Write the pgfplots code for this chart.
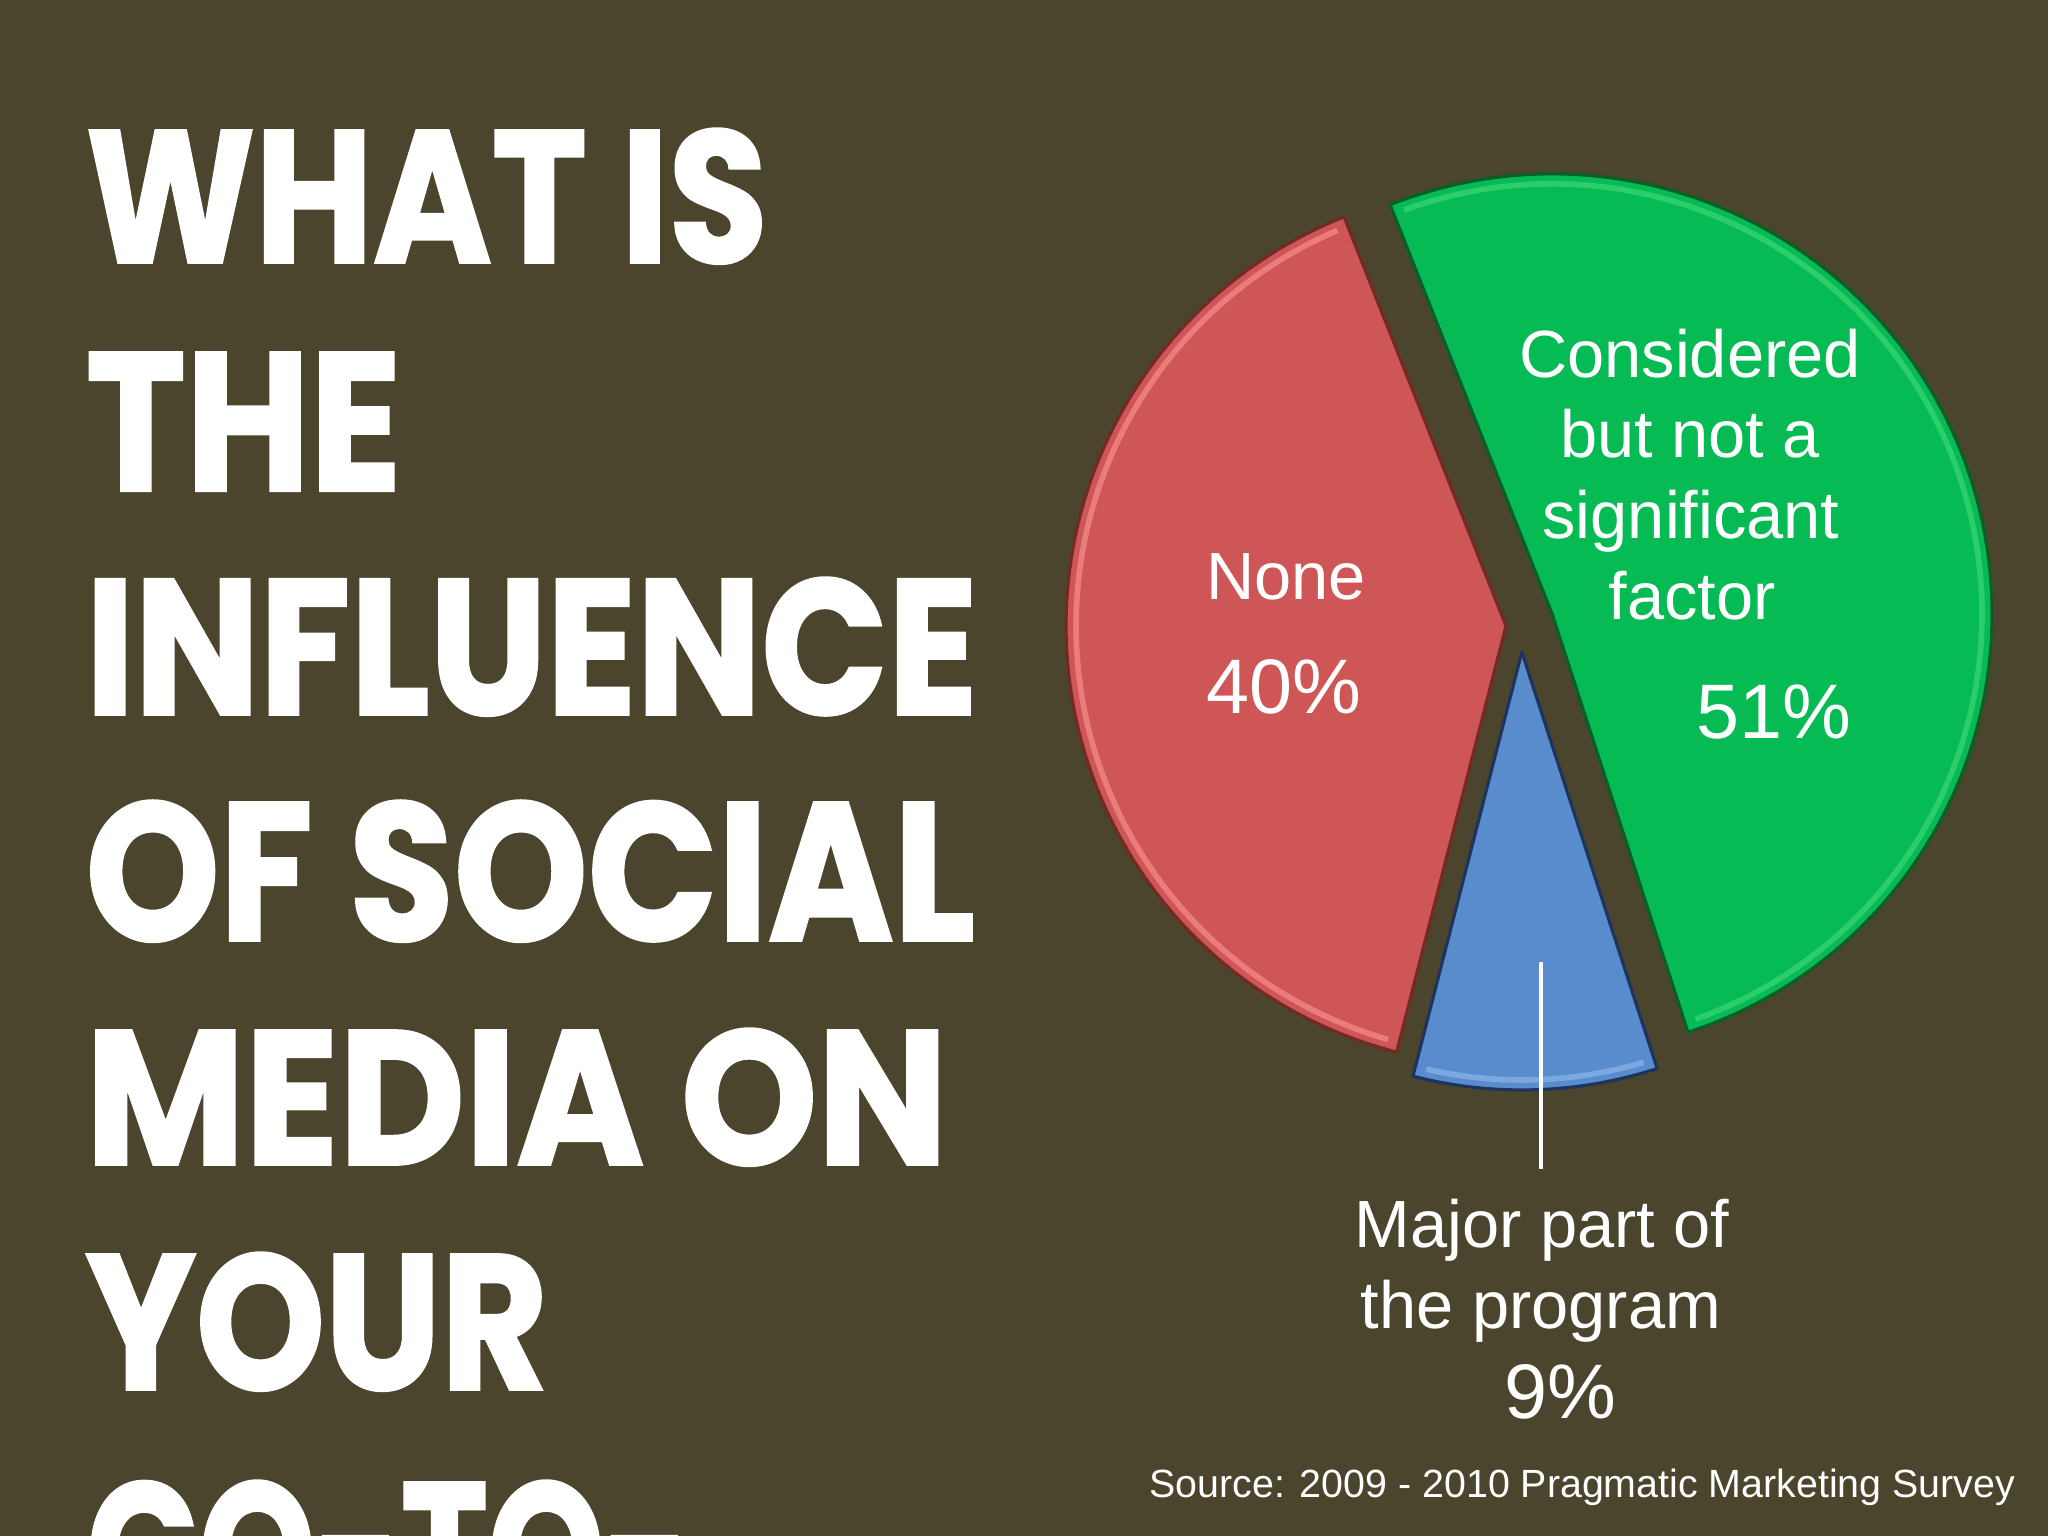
\documentclass[border=0pt]{standalone}
\usepackage{pgfplots}
\usepackage{pgfplotstable}
\pgfplotsset{compat=1.18}
\usepackage{graphicx}
\usepackage{fontspec}
\setmainfont{Liberation Sans}
\newfontfamily\titlefont[BoldFeatures={FakeBold=1.5}]{Poppins}

\definecolor{bg}{RGB}{74,69,44}
\definecolor{pieRed}{RGB}{206,86,86}
\definecolor{pieRedDark}{RGB}{115,42,36}
\definecolor{pieRedLight}{RGB}{244,138,138}
\definecolor{pieGreen}{RGB}{6,186,84}
\definecolor{pieGreenDark}{RGB}{10,95,40}
\definecolor{pieGreenLight}{RGB}{70,220,125}
\definecolor{pieBlue}{RGB}{88,140,205}
\definecolor{pieBlueDark}{RGB}{30,52,92}
\definecolor{pieBlueLight}{RGB}{135,178,232}

% share in percent, explode distance in px
\pgfplotstableread{
slice share shift
None 40 15
Major 9 27
Considered 51 33
}\piedata

\newcommand\labelsize{\fontsize{19}{23}\selectfont}
\newcommand\pctsize{\fontsize{22}{26}\selectfont}

\begin{document}
\begin{tikzpicture}
\pgfplotstablegetelem{0}{share}\of\piedata\edef\sNone{\pgfplotsretval}
\pgfplotstablegetelem{1}{share}\of\piedata\edef\sMajor{\pgfplotsretval}
\pgfplotstablegetelem{2}{share}\of\piedata\edef\sCons{\pgfplotsretval}
\pgfplotstablegetelem{0}{shift}\of\piedata\edef\dNone{\pgfplotsretval}
\pgfplotstablegetelem{1}{shift}\of\piedata\edef\dMajor{\pgfplotsretval}
\pgfplotstablegetelem{2}{shift}\of\piedata\edef\dCons{\pgfplotsretval}
\pgfmathsetmacro\aStart{111.6}
\pgfmathsetmacro\aRB{\aStart+3.6*\sNone}
\pgfmathsetmacro\aBG{\aRB+3.6*\sMajor}
\pgfmathsetmacro\aEnd{\aBG+3.6*\sCons}
\pgfmathsetmacro\xR{1521+\dNone*cos((\aStart+\aRB)/2)}
\pgfmathsetmacro\yR{625-\dNone*sin((\aStart+\aRB)/2)}
\pgfmathsetmacro\xB{1521+\dMajor*cos((\aRB+\aBG)/2)}
\pgfmathsetmacro\yB{625-\dMajor*sin((\aRB+\aBG)/2)}
\pgfmathsetmacro\xG{1521+\dCons*cos((\aBG+\aEnd)/2)}
\pgfmathsetmacro\yG{625-\dCons*sin((\aBG+\aEnd)/2)}

\useasboundingbox (0,0) rectangle (20.48,15.36);
\clip (0,0) rectangle (20.48,15.36);
\fill[bg] (0,0) rectangle (20.48,15.36);

\begin{axis}[
    at={(0,0)}, anchor=south west,
    width=20.48cm, height=15.36cm, scale only axis,
    xmin=0, xmax=2048, ymin=0, ymax=1536,
    y dir=reverse,
    hide axis, clip=false,
]
% slices
\addplot[fill=pieRed, draw=pieRedDark, line width=0.9pt, line join=round,
    domain=\aStart:\aRB, samples=120]
    ({\xR+440*cos(x)}, {\yR-440*sin(x)}) -- (axis cs:\xR,\yR) -- cycle;
\addplot[fill=pieBlue, draw=pieBlueDark, line width=0.9pt, line join=round,
    domain=\aRB:\aBG, samples=40]
    ({\xB+438*cos(x)}, {\yB-438*sin(x)}) -- (axis cs:\xB,\yB) -- cycle;
\addplot[fill=pieGreen, draw=pieGreenDark, line width=0.9pt, line join=round,
    domain=\aBG:\aEnd, samples=150]
    ({\xG+440*cos(x)}, {\yG-440*sin(x)}) -- (axis cs:\xG,\yG) -- cycle;
% rim highlights
\addplot[draw=pieRedLight, line width=1.6pt, opacity=0.75, domain=\aStart+1.5:\aRB-1.5, samples=100]
    ({\xR+430*cos(x)}, {\yR-430*sin(x)});
\addplot[draw=pieBlueLight, line width=1.6pt, opacity=0.75, domain=\aRB+1.5:\aBG-1.5, samples=30]
    ({\xB+428*cos(x)}, {\yB-428*sin(x)});
\addplot[draw=pieGreenLight, line width=1.6pt, opacity=0.6, domain=\aBG+1.5:\aEnd-1.5, samples=120]
    ({\xG+430*cos(x)}, {\yG-430*sin(x)});
% leader line
\addplot[white, line width=1pt] coordinates {(1541,962) (1541,1169)};

% slice labels
\node[text=white, anchor=base, inner sep=0pt, font=\labelsize] at (axis cs:1286,600) {None};
\node[text=white, anchor=base, inner sep=0pt, font=\pctsize] at (axis cs:1284,714) {40\%};
\node[text=white, anchor=base, inner sep=0pt, font=\labelsize] at (axis cs:1690,377) {Considered};
\node[text=white, anchor=base, inner sep=0pt, font=\labelsize] at (axis cs:1690,458) {but not a};
\node[text=white, anchor=base, inner sep=0pt, font=\labelsize] at (axis cs:1691,539) {significant};
\node[text=white, anchor=base, inner sep=0pt, font=\labelsize] at (axis cs:1692,620) {factor};
\node[text=white, anchor=base, inner sep=0pt, font=\pctsize] at (axis cs:1774,738) {51\%};
\node[text=white, anchor=base, inner sep=0pt, font=\labelsize] at (axis cs:1542,1247) {Major part of};
\node[text=white, anchor=base, inner sep=0pt, font=\labelsize] at (axis cs:1541,1328) {the program};
\node[text=white, anchor=base, inner sep=0pt, font=\pctsize] at (axis cs:1560,1418) {9\%};
\node[text=white, anchor=base east, inner sep=0pt, font=\fontsize{11.2}{13}\selectfont] at (axis cs:2016,1497)
    {Source: 2009 - 2010 Pragmatic Marketing Survey};

% title
\node[text=white, anchor=north west, inner sep=0pt] at (axis cs:85,128)
    {\resizebox*{6.82cm}{1.35cm}{\titlefont\bfseries WHAT IS}};
\node[text=white, anchor=north west, inner sep=0pt] at (axis cs:85,352)
    {\resizebox*{3.16cm}{1.38cm}{\titlefont\bfseries THE}};
\node[text=white, anchor=north west, inner sep=0pt] at (axis cs:85,577)
    {\resizebox*{8.92cm}{1.38cm}{\titlefont\bfseries INFLUENCE}};
\node[text=white, anchor=north west, inner sep=0pt] at (axis cs:85,800)
    {\resizebox*{8.89cm}{1.41cm}{\titlefont\bfseries OF SOCIAL}};
\node[text=white, anchor=north west, inner sep=0pt] at (axis cs:85,1028)
    {\resizebox*{8.62cm}{1.37cm}{\titlefont\bfseries MEDIA ON}};
\node[text=white, anchor=north west, inner sep=0pt] at (axis cs:85,1252)
    {\resizebox*{4.62cm}{1.38cm}{\titlefont\bfseries YOUR}};
\node[text=white, anchor=north west, inner sep=0pt] at (axis cs:86,1480)
    {\resizebox*{6.03cm}{1.38cm}{\titlefont\bfseries GO-TO-}};
\end{axis}
\end{tikzpicture}
\end{document}
